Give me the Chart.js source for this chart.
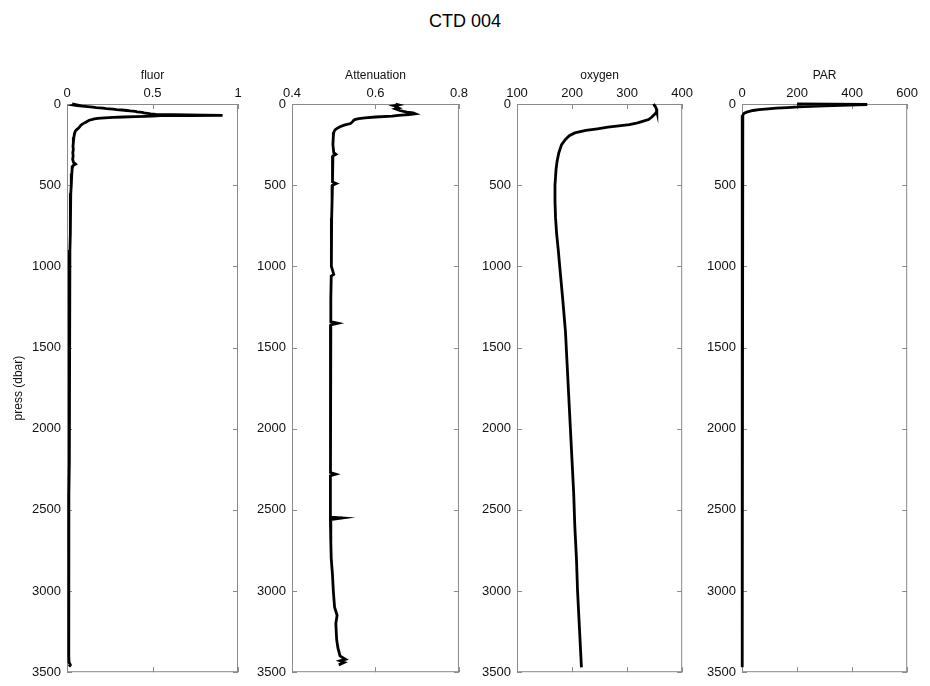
<!DOCTYPE html>
<html><head><meta charset="utf-8">
<script src="https://cdn.jsdelivr.net/npm/chart.js@4"></script>
<style>
body{margin:0;background:#fff;width:930px;height:686px;position:relative;overflow:hidden;font-family:"Liberation Sans",Arial,sans-serif}
canvas{position:absolute}
#title{position:absolute;left:0;width:930px;top:11px;text-align:center;font-size:18px;color:#000;font-family:"Liberation Sans",Arial,sans-serif}
</style></head><body>
<div id="title">CTD 004</div>
<canvas id="c0"></canvas><canvas id="c1"></canvas><canvas id="c2"></canvas><canvas id="c3"></canvas>
<script>
// ---- data ----
const panelTitles = ["fluor", "Attenuation", "oxygen", "PAR"];
const pressTicks = [0, 500, 1000, 1500, 2000, 2500, 3000, 3500];
const fluorTicks = [0, 0.5, 1];
const attenTicks = [0.4, 0.6, 0.8];
const oxygenTicks = [100, 200, 300, 400];
const parTicks = [0, 200, 400, 600];

const fluorPress = [0,4,7,10,13,16,19,22,25,28,31,34,37,40,43,46,49,52,55,58,61,64,66,68,70,71,72,74,76,78,80,82,85,88,91,95,100,106,112,118,124,132,140,148,155,165,178,190,205,220,240,260,280,300,320,340,360,370,380,400,430,460,500,550,600,650,700,800,900,1000,1100,1200,1300,1400,1500,1600,1700,1800,1900,2000,2200,2400,2600,2800,3000,3200,3400,3440,3455,3466];
const fluorValues = [0.03,0.05,0.04,0.06,0.09,0.12,0.15,0.17,0.21,0.23,0.27,0.29,0.32,0.35,0.37,0.40,0.41,0.44,0.45,0.47,0.49,0.52,0.62,0.80,0.91,0.72,0.55,0.50,0.46,0.40,0.33,0.27,0.22,0.18,0.16,0.15,0.13,0.12,0.11,0.10,0.09,0.08,0.075,0.068,0.06,0.05,0.045,0.043,0.04,0.038,0.036,0.035,0.037,0.034,0.036,0.033,0.038,0.05,0.035,0.03,0.028,0.026,0.024,0.022,0.021,0.02,0.019,0.018,0.017,0.016,0.016,0.015,0.015,0.014,0.014,0.013,0.013,0.013,0.012,0.012,0.012,0.011,0.011,0.011,0.01,0.01,0.01,0.012,0.02,0.012];

const attenPress = [0,5,10,15,20,25,30,40,50,55,60,65,70,75,80,85,90,95,100,110,120,130,140,150,160,175,200,250,300,310,320,400,480,490,500,600,700,800,900,1000,1050,1060,1200,1340,1350,1360,1500,1700,1900,2100,2270,2280,2290,2400,2545,2550,2560,2700,2800,2900,3000,3100,3150,3200,3300,3350,3400,3420,3430,3440,3455];
const attenValues = [0.648,0.655,0.645,0.652,0.650,0.655,0.648,0.658,0.675,0.690,0.695,0.680,0.655,0.640,0.600,0.575,0.560,0.552,0.548,0.545,0.540,0.525,0.515,0.508,0.503,0.500,0.499,0.498,0.500,0.505,0.498,0.497,0.497,0.506,0.497,0.496,0.495,0.495,0.494,0.494,0.500,0.494,0.493,0.493,0.510,0.493,0.493,0.492,0.492,0.492,0.492,0.505,0.492,0.492,0.492,0.520,0.492,0.493,0.494,0.497,0.499,0.502,0.508,0.505,0.507,0.510,0.515,0.528,0.515,0.525,0.512];

const oxygenPress = [0,10,20,30,45,60,80,96,110,120,127,135,143,153,163,178,195,218,250,300,350,400,450,500,600,700,800,900,1000,1200,1400,1600,1800,2000,2200,2400,2600,2800,3000,3200,3400,3470];
const oxygenValues = [348,350,352,353,354,351,345,339,325,315,304,285,265,246,225,205,195,188,181,176,173,171,170,169,169,170,172,175,177.6,183,188,191,194,197,200,203,205,208,210,213,216,217];

const parPress = [0,3,6,9,12,15,18,22,26,30,35,40,45,50,55,60,70,85,100,150,200,300,500,1000,1500,2000,2500,3000,3470];
const parValues = [200,455,420,360,300,250,205,165,125,95,62,40,27,17,10,6,3,2,1.5,1,0.8,0.6,0.5,0.5,0.5,0.5,0.5,0.5,0.5];

// ---- layout ----
const boxLefts = [67, 292, 517, 742];
const boxWidth = 171;
const axisW = 67, topH = 44, canvasTop = 60, canvasH = 626, padR = 8, padB = 9;

const frame = {
  id: 'frame',
  beforeDatasetsDraw(chart) {
    const {ctx, chartArea: a, scales: {x, y}} = chart;
    ctx.save();
    ctx.strokeStyle = '#8a8a8a';
    ctx.lineWidth = 1;
    ctx.strokeRect(a.left + 0.5, a.top + 0.5, a.right - a.left - 1, a.bottom - a.top - 1);
    ctx.beginPath();
    x.ticks.forEach(t => {
      const px = Math.round(x.getPixelForValue(t.value)) + 0.5;
      ctx.moveTo(px, a.top); ctx.lineTo(px, a.top + 5);
      ctx.moveTo(px, a.bottom); ctx.lineTo(px, a.bottom - 5);
    });
    y.ticks.forEach(t => {
      const py = Math.round(y.getPixelForValue(t.value)) + 0.5;
      ctx.moveTo(a.left, py); ctx.lineTo(a.left + 5, py);
      ctx.moveTo(a.right, py); ctx.lineTo(a.right - 5, py);
    });
    ctx.stroke();
    ctx.restore();
  }
};

const series = [
  [fluorPress, fluorValues, fluorTicks],
  [attenPress, attenValues, attenTicks],
  [oxygenPress, oxygenValues, oxygenTicks],
  [parPress, parValues, parTicks]
];

series.forEach((s, i) => {
  const [press, vals, xt] = s;
  const cv = document.getElementById('c' + i);
  const w = axisW + boxWidth + padR;
  cv.width = w; cv.height = canvasH;
  cv.style.left = (boxLefts[i] - axisW) + 'px';
  cv.style.top = canvasTop + 'px';
  cv.style.width = w + 'px'; cv.style.height = canvasH + 'px';
  new Chart(cv, {
    type: 'scatter',
    data: { datasets: [{
      data: press.map((p, k) => ({x: vals[k], y: p})),
      showLine: true, borderColor: '#000', borderWidth: 2.8,
      pointRadius: 0, tension: 0, clip: false
    }]},
    options: {
      responsive: false, animation: false, devicePixelRatio: 1,
      layout: { padding: { left: 0, top: 0, right: padR, bottom: padB } },
      plugins: { legend: { display: false }, tooltip: { enabled: false } },
      scales: {
        x: {
          type: 'linear', position: 'top',
          min: xt[0], max: xt[xt.length - 1],
          grid: { display: false, drawTicks: false }, border: { display: false },
          afterFit: sc => { sc.height = topH; },
          afterBuildTicks: sc => { sc.ticks = xt.map(v => ({value: v})); },
          ticks: { padding: 3, color: '#111', font: { size: 13, family: '"Liberation Sans", Arial' },
                   maxRotation: 0, callback: v => String(Math.round(v * 10) / 10) },
          title: { display: true, text: panelTitles[i], color: '#111',
                   font: { size: 12, family: '"Liberation Sans", Arial' }, padding: { top: 8, bottom: 0 } }
        },
        y: {
          type: 'linear', position: 'left', reverse: true,
          min: pressTicks[0], max: pressTicks[pressTicks.length - 1],
          grid: { display: false, drawTicks: false }, border: { display: false },
          afterFit: sc => { sc.width = axisW; },
          afterBuildTicks: sc => { sc.ticks = pressTicks.map(v => ({value: v})); },
          ticks: { padding: 6, color: '#111', font: { size: 13, family: '"Liberation Sans", Arial' },
                   callback: v => String(v) },
          title: { display: i === 0, text: 'press (dbar)', color: '#111',
                   font: { size: 12, family: '"Liberation Sans", Arial' }, padding: { top: 11, bottom: 0 } }
        }
      }
    },
    plugins: [frame]
  });
});
</script>
</body></html>
